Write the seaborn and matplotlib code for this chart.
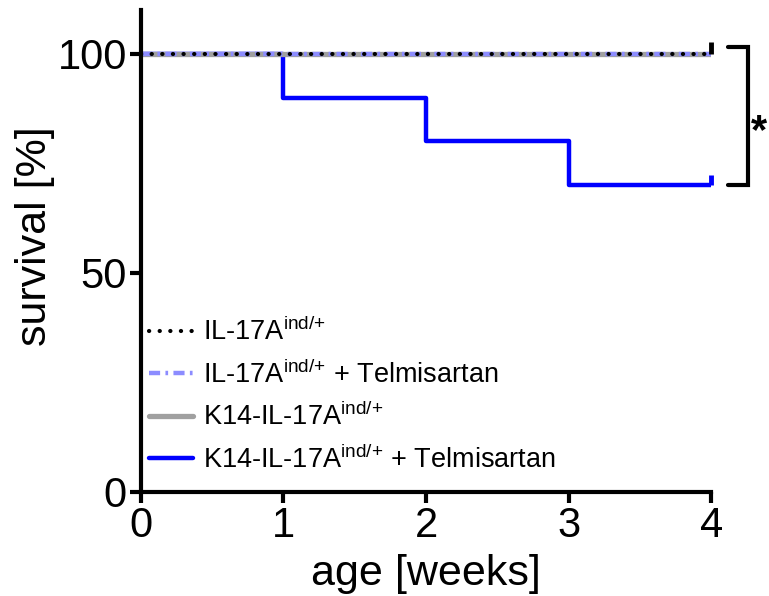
import matplotlib
matplotlib.use("Agg")
import matplotlib.pyplot as plt
import seaborn as sns
import pandas as pd

sns.set_theme(style="ticks")
plt.rcParams['font.family'] = ['Liberation Sans', 'DejaVu Sans']
plt.rcParams['text.color'] = 'black'

weeks = [0, 1, 2, 3, 4]
il17 = [100, 100, 100, 100, 100]
il17_telmi = [100, 100, 100, 100, 100]
k14 = [100, 100, 100, 100, 100]
k14_telmi = [100, 90, 80, 70, 70]

sup = "$^{\\mathregular{ind/{+}}}$"
labels = ["IL-17A" + sup,
          "IL-17A" + sup + " + Telmisartan",
          "K14-IL-17A" + sup,
          "K14-IL-17A" + sup + " + Telmisartan"]

fig = plt.figure(figsize=(7.69, 5.96), dpi=100)
ax = fig.add_axes([0.183, 0.1745, 0.742, 0.809])

sns.lineplot(x=weeks, y=k14_telmi, ax=ax, color="#0000ff", lw=3.2, drawstyle="steps-post",
             label=labels[3], zorder=1)
sns.lineplot(x=weeks, y=k14, ax=ax, color="#a0a0a0", lw=3.8, drawstyle="steps-post",
             label=labels[2], zorder=2)
sns.lineplot(x=weeks, y=il17_telmi, ax=ax, color="#8c8cff", lw=3.2, drawstyle="steps-post",
             linestyle=(0, (2.5, 1.2, 0.6, 1.2)), label=labels[1], zorder=3)
sns.lineplot(x=weeks, y=il17, ax=ax, color="black", lw=3, drawstyle="steps-post",
             linestyle=(0, (0.05, 2.5)), label=labels[0], zorder=4)
ax.get_lines()[3].set_dash_capstyle("round")

# censor marks at end (upward ticks)
ax.plot([3.995], [100], marker=2, color="black", ms=9, mew=3.5, zorder=5, clip_on=False)
ax.plot([3.995], [70], marker=2, color="#0000ff", ms=7, mew=3.5, zorder=5, clip_on=False)

ax.set_xlim(0, 4)
ax.set_ylim(0, 110)
ax.set_xticks([0, 1, 2, 3, 4])
ax.set_yticks([0, 50, 100])
ax.tick_params(axis="both", labelsize=30, width=3, length=8, direction="out", color="black",
               labelcolor="black", pad=2)
for s in ["top", "right"]:
    ax.spines[s].set_visible(False)
for s in ["left", "bottom"]:
    ax.spines[s].set_linewidth(3)
    ax.spines[s].set_color("black")
    ax.spines[s].set_zorder(6)

ax.set_xlabel("age [weeks]", fontsize=31, color="black", labelpad=6)
ax.set_ylabel("survival [%]", fontsize=31, color="black", labelpad=8)
ax.yaxis.set_label_coords(-0.15, 0.53)

# significance bracket
ax.plot([4.12, 4.26, 4.26, 4.12], [101.5, 101.5, 70, 70], color="black", lw=3,
        clip_on=False, solid_joinstyle="miter")
ax.text(4.28, 82, "*", fontsize=30, fontweight="bold", ha="left", va="center", color="black")

handles, labs = ax.get_legend_handles_labels()
order = [labs.index(x) for x in labels]
leg = ax.legend([handles[i] for i in order], [labs[i] for i in order],
                loc="lower left", bbox_to_anchor=(-0.005, 0.015), frameon=False,
                fontsize=19.5, handlelength=1.65, handletextpad=0.37, labelspacing=0.52,
                borderaxespad=0, labelcolor="black")
for h in leg.get_lines():
    if h.get_color() == "black":
        h.set_dash_capstyle("round")

fig.savefig("out.png", dpi=100)
